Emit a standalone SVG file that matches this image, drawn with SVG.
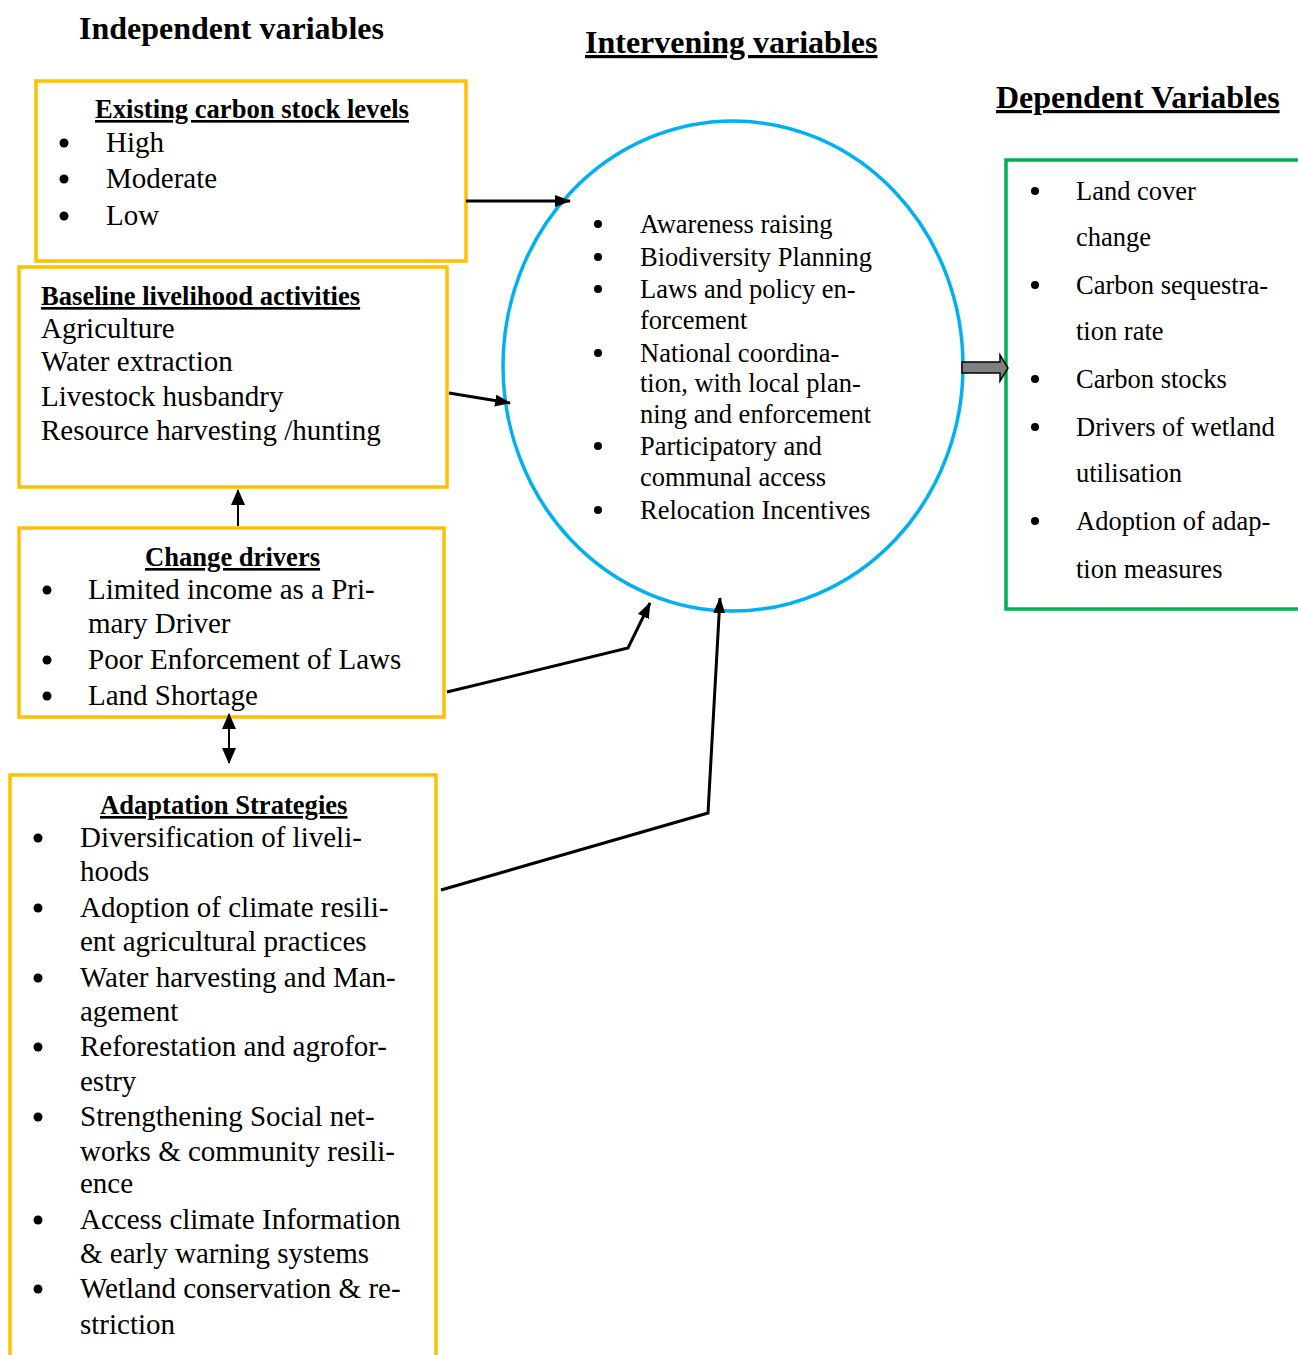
<svg xmlns="http://www.w3.org/2000/svg" width="1298" height="1355" viewBox="0 0 1298 1355">
<style>
text{font-family:"Liberation Serif","Times New Roman",serif;fill:#000}
.h{font-weight:bold;font-size:32px}
.u{text-decoration:underline}
.t{font-weight:bold;font-size:26.6px;text-decoration:underline}
.b{font-size:29px}
.c{font-size:26.5px}
.box{fill:#fff;stroke:#FFC000;stroke-width:3.5}
.ln{fill:none;stroke:#000;stroke-width:3}
.thin{fill:none;stroke:#000;stroke-width:2}
.d{fill:#000}
</style>
<defs>
<marker id="ahb" markerWidth="16" markerHeight="12" refX="15" refY="6" orient="auto" markerUnits="userSpaceOnUse" viewBox="0 0 16 12">
<path d="M0,0 L16,6 L0,12 Z" fill="#000"/>
</marker>
<marker id="ahs" markerWidth="16" markerHeight="14" refX="15" refY="7" orient="auto-start-reverse" markerUnits="userSpaceOnUse" viewBox="0 0 16 14">
<path d="M0,0 L16,7 L0,14 Z" fill="#000"/>
</marker>
</defs>
<rect width="1298" height="1355" fill="#fff"/>

<text class="h" x="79" y="39">Independent variables</text>
<text class="h u" x="585" y="53">Intervening variables</text>
<text class="h u" x="996" y="108">Dependent Variables</text>

<g id="existing-carbon">
<rect class="box" x="36" y="81" width="430" height="180"/>
<text class="t" x="95" y="118">Existing carbon stock levels</text>
<g class="d"><circle cx="64" cy="143" r="4.5"/><circle cx="64" cy="179" r="4.5"/><circle cx="64" cy="216" r="4.5"/></g>
<g class="b">
<text x="106" y="152">High</text>
<text x="106" y="188">Moderate</text>
<text x="106" y="225">Low</text>
</g>
</g>

<g id="baseline">
<rect class="box" x="19" y="267" width="428" height="220"/>
<text class="t" x="41" y="305">Baseline livelihood activities</text>
<g class="b">
<text x="41" y="338">Agriculture</text>
<text x="41" y="371">Water extraction</text>
<text x="41" y="406">Livestock husbandry</text>
<text x="41" y="440">Resource harvesting /hunting</text>
</g>
</g>

<g id="change-drivers">
<rect class="box" x="19" y="528" width="425" height="189"/>
<text class="t" x="145" y="566">Change drivers</text>
<g class="d"><circle cx="47" cy="590" r="4.5"/><circle cx="47" cy="660" r="4.5"/><circle cx="47" cy="696" r="4.5"/></g>
<g class="b">
<text x="88" y="599">Limited income as a Pri-</text>
<text x="88" y="633">mary Driver</text>
<text x="88" y="669">Poor Enforcement of Laws</text>
<text x="88" y="705">Land Shortage</text>
</g>
</g>

<g id="adaptation">
<path class="box" d="M10,1360 V775 H436 V1360"/>
<text class="t" x="100" y="814">Adaptation Strategies</text>
<g class="d"><circle cx="38" cy="838" r="4.5"/><circle cx="38" cy="908" r="4.5"/><circle cx="38" cy="978" r="4.5"/><circle cx="38" cy="1047" r="4.5"/><circle cx="38" cy="1117" r="4.5"/><circle cx="38" cy="1220" r="4.5"/><circle cx="38" cy="1289" r="4.5"/></g>
<g class="b">
<text x="80" y="847">Diversification of liveli-</text>
<text x="80" y="881">hoods</text>
<text x="80" y="917">Adoption of climate resili-</text>
<text x="80" y="951">ent agricultural practices</text>
<text x="80" y="987">Water harvesting and Man-</text>
<text x="80" y="1021">agement</text>
<text x="80" y="1056">Reforestation and agrofor-</text>
<text x="80" y="1091">estry</text>
<text x="80" y="1126">Strengthening Social net-</text>
<text x="80" y="1161">works &amp; community resili-</text>
<text x="80" y="1193">ence</text>
<text x="80" y="1229">Access climate Information</text>
<text x="80" y="1263">&amp; early warning systems</text>
<text x="80" y="1298">Wetland conservation &amp; re-</text>
<text x="80" y="1334">striction</text>
</g>
</g>

<g id="intervening">
<ellipse cx="733" cy="366" rx="230" ry="245" fill="#fff" stroke="#00B0F0" stroke-width="3.5"/>
<g class="d"><circle cx="598" cy="224" r="4"/><circle cx="598" cy="257" r="4"/><circle cx="598" cy="289" r="4"/><circle cx="598" cy="353" r="4"/><circle cx="598" cy="446" r="4"/><circle cx="598" cy="510" r="4"/></g>
<g class="c">
<text x="640" y="233">Awareness raising</text>
<text x="640" y="266">Biodiversity Planning</text>
<text x="640" y="298">Laws and policy en-</text>
<text x="640" y="329">forcement</text>
<text x="640" y="362">National coordina-</text>
<text x="640" y="392">tion, with local plan-</text>
<text x="640" y="423">ning and enforcement</text>
<text x="640" y="455">Participatory and</text>
<text x="640" y="486">communal access</text>
<text x="640" y="519">Relocation Incentives</text>
</g>
</g>

<g id="dependent">
<path d="M1310,160 H1006 V609 H1310" fill="#fff" stroke="#00B050" stroke-width="3.5"/>
<g class="d"><circle cx="1035" cy="191" r="4"/><circle cx="1035" cy="285" r="4"/><circle cx="1035" cy="379" r="4"/><circle cx="1035" cy="427" r="4"/><circle cx="1035" cy="521" r="4"/></g>
<g class="c">
<text x="1076" y="200">Land cover</text>
<text x="1076" y="246">change</text>
<text x="1076" y="294">Carbon sequestra-</text>
<text x="1076" y="340">tion rate</text>
<text x="1076" y="388">Carbon stocks</text>
<text x="1076" y="436">Drivers of wetland</text>
<text x="1076" y="482">utilisation</text>
<text x="1076" y="530">Adoption of adap-</text>
<text x="1076" y="578">tion measures</text>
</g>
</g>

<g id="connectors">
<line class="ln" x1="466" y1="201" x2="570" y2="201" marker-end="url(#ahb)"/>
<line class="ln" x1="449" y1="393" x2="510" y2="403" marker-end="url(#ahb)"/>
<line class="thin" x1="238" y1="526" x2="238" y2="490" marker-end="url(#ahs)"/>
<line class="thin" x1="229" y1="714" x2="229" y2="763" marker-start="url(#ahs)" marker-end="url(#ahs)"/>
<polyline class="ln" points="447,692 628,648 650,603" marker-end="url(#ahb)"/>
<polyline class="ln" points="441,890 708,813 720,598" marker-end="url(#ahb)"/>
<path d="M962,362 H1000 V355 L1008,368 L1000,381 V373 H962 Z" fill="#808080" stroke="#000" stroke-width="1.5"/>
</g>
</svg>
